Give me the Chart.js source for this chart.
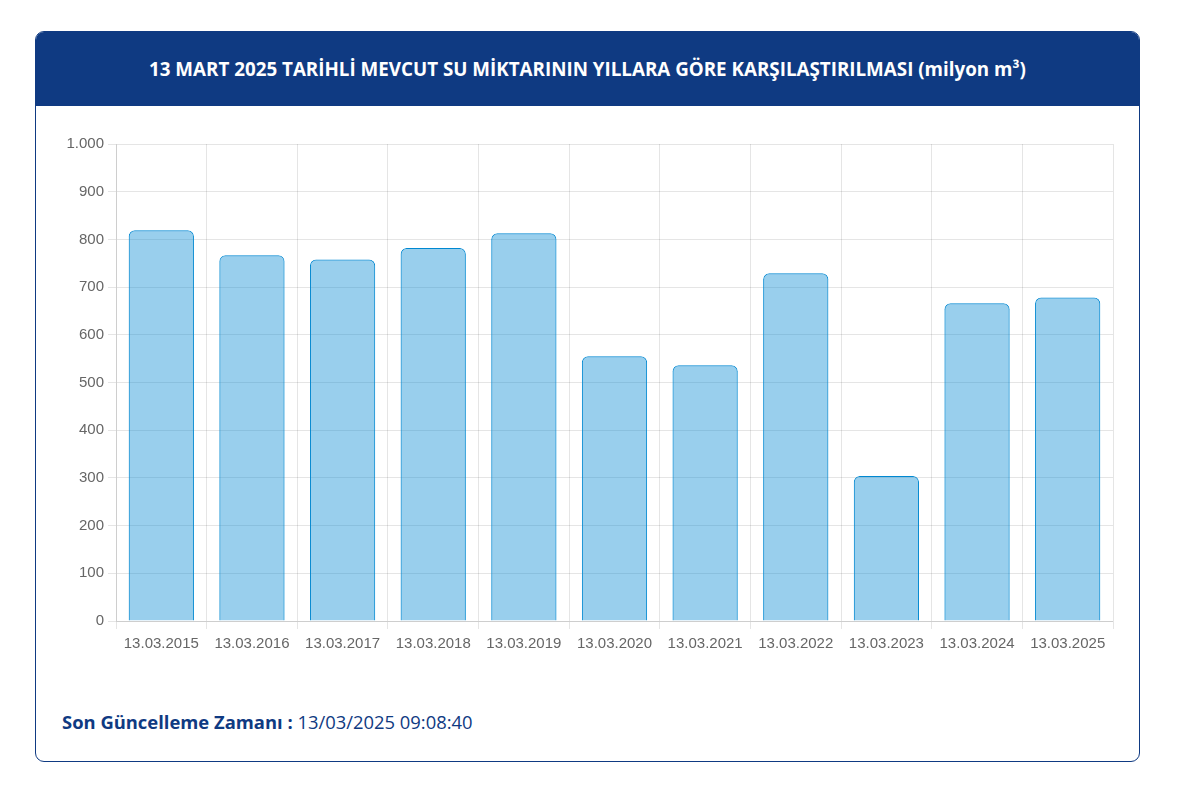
<!DOCTYPE html>
<html lang="tr">
<head>
<meta charset="utf-8">
<script src="https://cdn.jsdelivr.net/npm/chart.js@4.4.1/dist/chart.umd.min.js"></script>
<style>
  html, body { margin: 0; padding: 0; background: #fff; width: 1182px; height: 796px; overflow: hidden; }
  .card { position: absolute; left: 35px; top: 31px; width: 1103px; height: 729px; border: 1px solid #0f3a82; border-radius: 9px; overflow: hidden; background: #fff; }
  .head { position: absolute; left: 0; top: 0; width: 100%; height: 74px; background: #0f3a82; color: #fff; font-family: "Open Sans", Lato, sans-serif; font-weight: 700; font-size: 18.8px; text-align: center; line-height: 74px; }
  .chartbox { position: absolute; left: 19px; top: 99px; width: 1070px; height: 530px; }
  .foot { position: absolute; left: 26px; top: 677px; font-family: "Open Sans", Lato, sans-serif; font-size: 18.4px; color: #0f3a82; }
  .foot b { font-weight: 700; }
</style>
</head>
<body>
<div class="card">
  <div class="head">13 MART 2025 TARİHLİ MEVCUT SU MİKTARININ YILLARA GÖRE KARŞILAŞTIRILMASI (milyon m³)</div>
  <div class="chartbox"><canvas id="c"></canvas></div>
  <div class="foot"><b>Son Güncelleme Zamanı :</b> 13/03/2025 09:08:40</div>
</div>
<script>
const categories = ["13.03.2015","13.03.2016","13.03.2017","13.03.2018","13.03.2019","13.03.2020","13.03.2021","13.03.2022","13.03.2023","13.03.2024","13.03.2025"];
const values = [819, 767, 758, 782, 813, 555, 536, 729, 304, 666, 678];
const yMin = 0, yMax = 1000, yStep = 100;

new Chart(document.getElementById('c'), {
  type: 'bar',
  data: {
    labels: categories,
    datasets: [{
      data: values,
      backgroundColor: 'rgba(0,136,209,0.4)',
      borderColor: 'rgb(0,136,209)',
      borderWidth: 1,
      borderRadius: 6,
      borderSkipped: 'bottom'
    }]
  },
  options: {
    responsive: true,
    maintainAspectRatio: false,
    animation: false,
    layout: { padding: { left: 0, right: 12, top: 7, bottom: 0 } },
    plugins: { legend: { display: false }, tooltip: { enabled: false } },
    scales: {
      x: {
        grid: { color: 'rgba(0,0,0,0.1)', offset: true, tickLength: 8 },
        ticks: { color: '#666', font: { family: '"Liberation Sans", Arial, sans-serif', size: 15 }, maxRotation: 0, padding: 6 },
        afterFit: s => { s.height = 40; }
      },
      y: {
        min: yMin, max: yMax,
        grid: { color: 'rgba(0,0,0,0.1)', tickLength: 8 },
        ticks: {
          stepSize: yStep,
          color: '#666',
          font: { family: '"Liberation Sans", Arial, sans-serif', size: 15 },
          padding: 4,
          callback: v => v.toLocaleString('tr-TR')
        },
        afterFit: s => { s.width = 61; }
      }
    }
  }
});
</script>
</body>
</html>
